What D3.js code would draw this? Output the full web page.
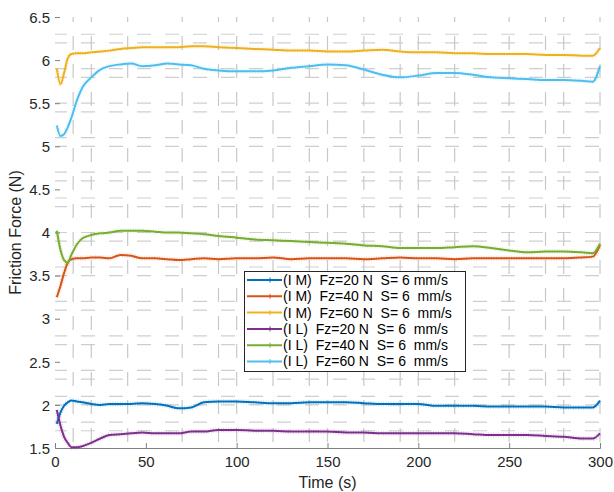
<!DOCTYPE html>
<html>
<head>
<meta charset="utf-8">
<script src="https://cdn.jsdelivr.net/npm/d3@7"></script>
<style>
  body { margin: 0; background: #fff; }
  text { font-family: "Liberation Sans", Arial, sans-serif; }
  .tick text { fill: #262626; font-size: 15px; }
  .axis-label { fill: #262626; font-size: 16px; }
  .legend text { font-size: 14px; fill: #000; white-space: pre; }
</style>
</head>
<body>
<div id="chart"></div>
<script>
// time samples (s)
const time = [1, 3, 5, 7, 9, 12, 15, 20, 25, 30, 36, 42, 48, 55, 62, 68, 75, 82, 90, 100,
  110, 120, 130, 140, 150, 160, 170, 180, 190, 200, 210, 220, 230, 240, 250, 260, 270, 280, 290, 296, 300];

const imFz20 = [1.78, 1.91, 1.99, 2.03, 2.05, 2.04, 2.03, 2.01, 2.00, 2.01, 2.01, 2.01, 2.02, 2.01, 1.99, 1.96, 1.97, 2.03, 2.04, 2.04,
  2.03, 2.02, 2.02, 2.03, 2.03, 2.03, 2.02, 2.01, 2.01, 2.01, 1.99, 1.99, 1.99, 1.98, 1.98, 1.98, 1.98, 1.97, 1.97, 1.97, 2.05];
const imFz40 = [3.25, 3.38, 3.53, 3.65, 3.69, 3.70, 3.70, 3.71, 3.71, 3.70, 3.74, 3.73, 3.70, 3.70, 3.69, 3.68, 3.69, 3.70, 3.69, 3.70,
  3.70, 3.71, 3.69, 3.70, 3.70, 3.70, 3.69, 3.70, 3.71, 3.70, 3.70, 3.69, 3.70, 3.70, 3.70, 3.70, 3.70, 3.70, 3.71, 3.72, 3.85];
const imFz60 = [5.90, 5.72, 5.85, 6.02, 6.07, 6.08, 6.08, 6.09, 6.10, 6.11, 6.13, 6.14, 6.15, 6.15, 6.15, 6.15, 6.16, 6.16, 6.15, 6.14,
  6.13, 6.12, 6.11, 6.11, 6.10, 6.10, 6.11, 6.12, 6.10, 6.09, 6.09, 6.08, 6.08, 6.07, 6.07, 6.07, 6.06, 6.06, 6.05, 6.05, 6.14];
const ilFz20 = [1.94, 1.76, 1.63, 1.56, 1.51, 1.51, 1.52, 1.56, 1.61, 1.65, 1.66, 1.67, 1.68, 1.67, 1.67, 1.67, 1.69, 1.69, 1.71, 1.71,
  1.70, 1.70, 1.69, 1.69, 1.69, 1.68, 1.68, 1.67, 1.67, 1.67, 1.67, 1.67, 1.66, 1.65, 1.65, 1.65, 1.64, 1.63, 1.61, 1.61, 1.67];
const ilFz40 = [4.02, 3.80, 3.68, 3.65, 3.74, 3.86, 3.93, 3.97, 3.99, 4.00, 4.02, 4.02, 4.02, 4.01, 4.00, 4.00, 3.99, 3.98, 3.96, 3.94,
  3.92, 3.91, 3.90, 3.89, 3.88, 3.87, 3.85, 3.84, 3.82, 3.82, 3.82, 3.83, 3.84, 3.82, 3.79, 3.77, 3.78, 3.78, 3.77, 3.76, 3.87];
const ilFz60 = [5.24, 5.12, 5.14, 5.22, 5.33, 5.53, 5.68, 5.80, 5.89, 5.93, 5.95, 5.96, 5.93, 5.94, 5.96, 5.95, 5.94, 5.90, 5.88, 5.87,
  5.87, 5.88, 5.91, 5.93, 5.95, 5.94, 5.89, 5.83, 5.80, 5.82, 5.85, 5.85, 5.83, 5.80, 5.79, 5.78, 5.77, 5.77, 5.76, 5.75, 5.93];

const seriesNames = [
  "(I M)  Fz=20 N  S= 6 mm/s",
  "(I M)  Fz=40 N  S= 6  mm/s",
  "(I M)  Fz=60 N  S= 6  mm/s",
  "(I L)  Fz=20 N  S= 6  mm/s",
  "(I L)  Fz=40 N  S= 6  mm/s",
  "(I L)  Fz=60 N  S= 6  mm/s"
];
const seriesValues = [imFz20, imFz40, imFz60, ilFz20, ilFz40, ilFz60];
const seriesColors = ["#0072BD", "#D95319", "#EDB120", "#7E2F8E", "#77AC30", "#4DBEEE"];

const xTicks = [0, 50, 100, 150, 200, 250, 300];
const yTicks = [1.5, 2, 2.5, 3, 3.5, 4, 4.5, 5, 5.5, 6, 6.5];
// grid lines as they show up in the picture
const xGrid = [10, 20, 40, 70, 90, 100, 120, 140, 150, 170, 190, 200, 220, 250, 270, 280, 300];
const yGrid = [6.3, 6.2, 5.9, 5.8, 5.5, 5.4, 5.1, 5.0, 4.7, 4.6, 4.4, 4.3, 4.0, 3.9, 3.6, 3.5,
  3.2, 3.1, 2.8, 2.7, 2.4, 2.3, 2.1, 2.0, 1.8, 1.7];

const margin = { LEFT: 55, RIGHT: 14, TOP: 17, BOTTOM: 44 };
const width = 614 - margin.LEFT - margin.RIGHT;
const height = 492 - margin.TOP - margin.BOTTOM;

const svg = d3.select("#chart").append("svg")
  .attr("width", 614)
  .attr("height", 492);

const g = svg.append("g")
  .attr("transform", `translate(${margin.LEFT}, ${margin.TOP})`);

const x = d3.scaleLinear().domain([0, 300]).range([0, width]);
const y = d3.scaleLinear().domain([1.5, 6.5]).range([height, 0]);

// dashed grid
g.append("g").selectAll("line")
  .data(yGrid)
  .enter().append("line")
  .attr("x1", 0).attr("x2", width)
  .attr("y1", d => y(d)).attr("y2", d => y(d))
  .attr("stroke", "#cfcfcf")
  .attr("stroke-width", 1.2)
  .attr("stroke-dasharray", "14,14")
  .attr("stroke-dashoffset", 2);

g.append("g").selectAll("line")
  .data(xGrid)
  .enter().append("line")
  .attr("x1", d => x(d)).attr("x2", d => x(d))
  .attr("y1", 0).attr("y2", height)
  .attr("stroke", "#c8c8c8")
  .attr("stroke-width", 1.2)
  .attr("stroke-dasharray", "14,14")
  .attr("stroke-dashoffset", 9);

// X axis
const xAxisCall = d3.axisBottom(x)
  .tickValues(xTicks)
  .tickSize(-5)
  .tickPadding(8)
  .tickFormat(d => d);
const xAxisGroup = g.append("g")
  .attr("class", "x axis")
  .attr("transform", `translate(0, ${height})`)
  .call(xAxisCall);
xAxisGroup.select(".domain").attr("stroke", "#808080");
xAxisGroup.selectAll(".tick line").attr("stroke", "#808080");

// Y axis
const yAxisCall = d3.axisLeft(y)
  .tickValues(yTicks)
  .tickSize(-5)
  .tickPadding(5)
  .tickFormat(d => d);
const yAxisGroup = g.append("g")
  .attr("class", "y axis")
  .call(yAxisCall);
yAxisGroup.select(".domain").remove();
yAxisGroup.selectAll(".tick line").attr("stroke", "#808080");
yAxisGroup.selectAll(".tick text").attr("dy", "0.35em");

// lines
const line = d3.line()
  .x((d, i) => x(time[i]))
  .y(d => y(d))
  .curve(d3.curveMonotoneX);

seriesValues.forEach((vals, i) => {
  // faint halo standing in for the raw samples
  g.append("path")
    .attr("d", line(vals))
    .attr("fill", "none")
    .attr("stroke", seriesColors[i])
    .attr("stroke-width", 5)
    .attr("stroke-opacity", 0.22)
    .attr("stroke-dasharray", "1,1.5");
  g.append("path")
    .attr("d", line(vals))
    .attr("fill", "none")
    .attr("stroke", seriesColors[i])
    .attr("stroke-width", 2);
});

// axis labels
g.append("text")
  .attr("class", "axis-label")
  .attr("x", width / 2)
  .attr("y", height + 40)
  .attr("text-anchor", "middle")
  .text("Time (s)");

g.append("text")
  .attr("class", "axis-label")
  .attr("x", -(height / 2))
  .attr("y", -34)
  .attr("text-anchor", "middle")
  .attr("transform", "rotate(-90)")
  .text("Friction Force (N)");

// legend
const legend = svg.append("g").attr("class", "legend");
legend.append("rect")
  .attr("x", 244.5).attr("y", 271.5)
  .attr("width", 221).attr("height", 100)
  .attr("fill", "#fff")
  .attr("stroke", "#262626")
  .attr("stroke-width", 1);

seriesNames.forEach((name, i) => {
  const cy = 280 + i * 16.3;
  legend.append("line")
    .attr("x1", 247).attr("x2", 282)
    .attr("y1", cy).attr("y2", cy)
    .attr("stroke", seriesColors[i])
    .attr("stroke-width", 2);
  legend.append("line")
    .attr("x1", 270).attr("x2", 270)
    .attr("y1", cy - 2.5).attr("y2", cy + 2.5)
    .attr("stroke", seriesColors[i])
    .attr("stroke-width", 1);
  legend.append("text")
    .attr("x", 283)
    .attr("y", cy)
    .attr("dy", "0.35em")
    .text(name);
});
</script>
</body>
</html>
